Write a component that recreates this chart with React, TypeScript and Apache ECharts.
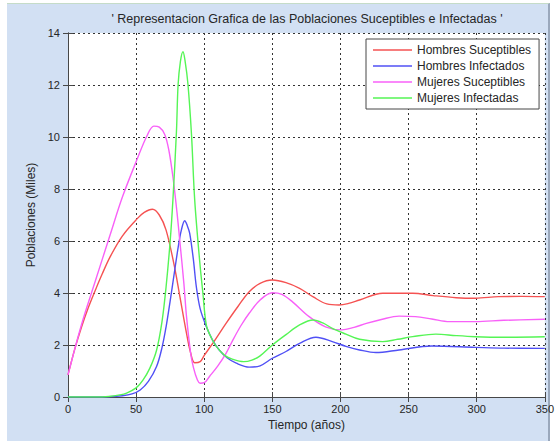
import React, { useEffect, useRef } from "react";
import * as echarts from "echarts";

// Tiempo (años) vs. población (miles) for each group
const hombresSuceptibles: [number, number][] = [
  [0, 0.85], [5, 1.85], [10, 2.7], [15, 3.45], [20, 4.1], [25, 4.72], [31, 5.4],
  [40, 6.2], [51, 6.87], [56, 7.1], [62, 7.22], [67, 7.0], [72, 6.42], [78, 5.05],
  [82, 3.9], [87, 2.45], [90, 1.7], [93, 1.32], [97, 1.36], [100, 1.6], [108, 2.2],
  [116, 2.83], [125, 3.5], [133, 4.05], [141, 4.37], [150, 4.5], [160, 4.4],
  [170, 4.18], [180, 3.85], [190, 3.58], [199, 3.54], [206, 3.6], [214, 3.73],
  [231, 3.99], [253, 3.99], [268, 3.9], [285, 3.82], [299, 3.8], [316, 3.86],
  [333, 3.87], [350, 3.86],
];

const hombresInfectados: [number, number][] = [
  [0, 0], [20, 0], [30, 0.01], [40, 0.05], [47, 0.12], [53, 0.27], [59, 0.6],
  [65, 1.17], [69, 1.9], [72, 2.7], [75, 3.7], [78, 4.76], [81, 5.8], [83.2, 6.42],
  [85.7, 6.78], [87.5, 6.6], [89.3, 6.3], [92, 5.3], [94.2, 4.24], [97, 3.4],
  [101.6, 2.7], [106, 2.2], [111, 1.81], [117, 1.5], [123.5, 1.3], [133, 1.15],
  [141, 1.2], [150, 1.49], [160, 1.75], [170, 2.06], [182, 2.3], [194, 2.13],
  [204, 1.95], [214, 1.81], [226, 1.71], [243, 1.81], [267, 1.96], [299, 1.91],
  [320, 1.88], [350, 1.87],
];

const mujeresSuceptibles: [number, number][] = [
  [0, 0.85], [10, 2.8], [20, 4.45], [31, 6.25], [40, 7.7], [51, 9.18],
  [58, 10.05], [63, 10.42], [67, 10.38], [71, 10.1], [74, 9.5],
  [77, 8.47], [80, 7.1], [82, 6.04], [85, 4.4], [87, 3.09], [90, 1.7], [92, 1.15],
  [95, 0.65], [97, 0.53], [100, 0.55], [104, 0.8], [110, 1.2], [116, 1.68],
  [121, 2.19], [127, 2.75], [133, 3.22], [141, 3.73], [150, 4.01], [157, 3.95],
  [165, 3.65], [177, 3.09], [189, 2.7], [201, 2.58], [210, 2.68], [219, 2.83],
  [230, 2.98], [243, 3.11], [255, 3.09], [267, 3.0], [280, 2.9], [299, 2.9],
  [320, 2.95], [350, 2.99],
];

const mujeresInfectadas: [number, number][] = [
  [0, 0], [10, 0], [20, 0], [30, 0.02], [38, 0.08], [43, 0.15], [50, 0.35],
  [55, 0.65], [60, 1.1], [65, 1.8], [69, 2.9], [72, 4.24], [75, 6.0], [77, 7.58],
  [79.6, 10.2], [80.8, 12.0], [82.5, 12.9], [84.4, 13.28], [86, 12.9], [88, 12.06],
  [90.6, 10.14], [93, 7.58], [96.7, 5.2], [99, 4.0], [101.6, 2.75], [105, 2.3],
  [109, 1.94], [115, 1.6], [121, 1.45], [129, 1.36], [135, 1.42], [141, 1.58],
  [150, 2.0], [160, 2.4], [170, 2.77], [180, 2.96], [187, 2.85], [194, 2.64],
  [204, 2.42], [214, 2.22], [231, 2.13], [242, 2.22], [253, 2.32], [270, 2.42],
  [285, 2.36], [299, 2.32], [320, 2.3], [350, 2.32],
];

const seriesNames = [
  "Hombres Suceptibles",
  "Hombres Infectados",
  "Mujeres Suceptibles",
  "Mujeres Infectadas",
];
const seriesColors = ["#f55252", "#5050f5", "#f860f8", "#55f555"];

const FONT = "'Liberation Sans', Arial, sans-serif";
const TEXT = "#262626";
const FRAME = "#474747";

export default function App() {
  const ref = useRef<HTMLDivElement>(null);

  useEffect(() => {
    if (!ref.current) return;
    const chart = echarts.init(ref.current, null, { renderer: "svg" });
    const allData = [hombresSuceptibles, hombresInfectados, mujeresSuceptibles, mujeresInfectadas];

    const frameAxis = {
      axisLine: { show: true, lineStyle: { color: FRAME, width: 1 } },
      axisTick: { show: true, inside: true, length: 5, lineStyle: { color: FRAME } },
    };

    chart.setOption({
      animation: false,
      backgroundColor: "transparent",
      textStyle: { fontFamily: FONT },
      grid: {
        left: 68, top: 33, width: 478, height: 364,
        show: true, backgroundColor: "#ffffff", borderWidth: 0,
      },
      xAxis: [
        {
          type: "value", min: 0, max: 350, interval: 50,
          ...frameAxis,
          axisLabel: { fontSize: 11, color: TEXT, fontFamily: FONT, margin: 6 },
          splitLine: { show: true, lineStyle: { color: "#333", type: [2, 3], width: 1 } },
          name: "Tiempo (años)", nameLocation: "middle", nameGap: 15,
          nameTextStyle: { fontSize: 12, color: TEXT, fontFamily: FONT },
        },
        {
          type: "value", min: 0, max: 350, interval: 50, position: "top",
          ...frameAxis,
          axisLabel: { show: false }, splitLine: { show: false },
        },
      ],
      yAxis: [
        {
          type: "value", min: 0, max: 14, interval: 2,
          ...frameAxis,
          axisLabel: { fontSize: 11, color: TEXT, fontFamily: FONT, margin: 8 },
          splitLine: { show: true, lineStyle: { color: "#333", type: [2, 3], width: 1 } },
          name: "Poblaciones (Miles)", nameLocation: "middle", nameGap: 26,
          nameTextStyle: { fontSize: 12, color: TEXT, fontFamily: FONT },
        },
        {
          type: "value", min: 0, max: 14, interval: 2, position: "right",
          ...frameAxis,
          axisLabel: { show: false }, splitLine: { show: false },
        },
      ],
      legend: {
        orient: "vertical",
        left: 366, top: 39,
        padding: [4, 8, 4, 7],
        itemGap: 2,
        icon: "rect",
        itemWidth: 39, itemHeight: 1.5,
        backgroundColor: "#ffffff",
        borderColor: FRAME, borderWidth: 1, borderRadius: 0,
        textStyle: { fontSize: 12, lineHeight: 14, color: TEXT, fontFamily: FONT },
        data: seriesNames,
      },
      graphic: [
        {
          type: "text", x: 307, y: 19,
          style: {
            text: "' Representacion Grafica de las Poblaciones Suceptibles e Infectadas '",
            fill: TEXT, font: `12.5px ${FONT}`, textAlign: "center", textVerticalAlign: "middle",
          },
        },
      ],
      series: seriesNames.map((name, i) => ({
        name,
        type: "line",
        data: allData[i],
        smooth: 0.35,
        symbol: "none",
        color: seriesColors[i],
        lineStyle: { width: 1.4, color: seriesColors[i] },
      })),
    });

    return () => chart.dispose();
  }, []);

  return (
    <div style={{ position: "fixed", left: 0, top: 0, width: 557, height: 441, background: "#ffffff" }}>
      <div
        style={{
          position: "absolute", left: 7, top: 3, width: 541, height: 437,
          background: "#d2e0f3", borderRight: "2px solid #9aa8bc", borderTop: "1px solid #c5dcc8",
        }}
      />
      <div ref={ref} style={{ position: "absolute", left: 0, top: 0, width: 557, height: 441 }} />
    </div>
  );
}
